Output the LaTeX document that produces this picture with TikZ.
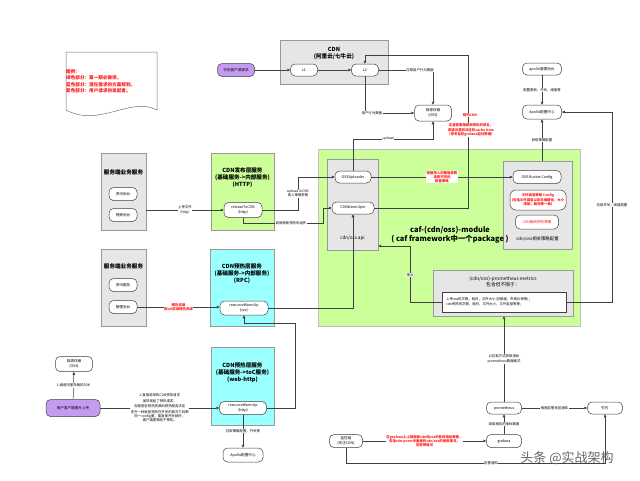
\documentclass[tikz,border=0pt]{standalone}
\usepackage{fontspec}
\setmainfont{Noto Sans CJK SC}
\usetikzlibrary{arrows.meta}

\definecolor{grpgray}{HTML}{E6E6E6}
\definecolor{lime}{HTML}{CCFF99}
\definecolor{aqua}{HTML}{99FFFF}
\definecolor{lilac}{HTML}{C39BF0}
\definecolor{warnred}{HTML}{FF1A1A}

\tikzset{
    grp/.style={draw=black!40, fill=grpgray, line width=0.4pt},
    pill/.style={draw=black!75, fill=white, rounded corners=4.5pt, line width=0.5pt,
        align=center, inner sep=0.5pt, minimum height=12pt,
        font=\fontsize{3.6}{4.4}\selectfont},
    lnk/.style={draw=black!75, line width=0.5pt, -{Triangle[length=3pt,width=2.6pt]}},
    lbl/.style={fill=white, inner sep=0.6pt, align=center, font=\fontsize{3.4}{4.2}\selectfont},
    redlbl/.style={lbl, text=warnred, font=\fontsize{3.4}{4.2}\selectfont\bfseries},
    ttl/.style={align=center, font=\fontsize{5.6}{7}\selectfont\bfseries}
}

\begin{document}
\begin{tikzpicture}[x=1pt, y=-1pt]
    \useasboundingbox[fill=white] (0,0) rectangle (640,480);

    % legend
    \draw[black!55, fill=white, line width=0.5pt] (66,52) -- (157,52) -- (157,110)
        .. controls (130,96) and (100,128) .. (66,110) -- cycle;
    \node[anchor=north west, align=left, text=warnred, inner sep=0pt,
        font=\fontsize{4.6}{6.5}\selectfont\bfseries] (legend) at (66,69)
        {图例：\\绿色部分：第一期必做项。\\蓝色部分：潜在需求的方案规划。\\紫色部分：用户请求的发起者。};

    % groups
    \node[grp, minimum width=108pt, minimum height=44pt] (cdnGrp) at (334,62) {};
    \node[grp, minimum width=45pt, minimum height=77pt] (svcA) at (123.5,191.5) {};
    \node[grp, fill=lime, minimum width=63pt, minimum height=77pt] (pubGrp) at (242.5,191.5) {};
    \node[grp, fill=lime, draw=black!25, minimum width=262pt, minimum height=177pt] (modGrp) at (449,237.5) {};
    \node[grp, minimum width=51pt, minimum height=91pt] (apiGrp) at (352.5,204.5) {};
    \node[grp, minimum width=69pt, minimum height=88pt] (cfgGrp) at (537.5,205) {};
    \node[grp, minimum width=140pt, minimum height=46pt] (metGrp) at (503,293) {};
    \node[draw=black!75, fill=white, line width=0.5pt, minimum width=124pt, minimum height=20pt] (metBox) at (504,302) {};
    \node[grp, minimum width=45pt, minimum height=77pt] (svcB) at (123.5,287.5) {};
    \node[grp, fill=aqua, minimum width=64pt, minimum height=77pt] (rpcGrp) at (242,287.5) {};
    \node[grp, fill=aqua, minimum width=63pt, minimum height=78pt] (webGrp) at (242.5,386) {};

    % group titles
    \node[ttl] at (334,53) {CDN\\(阿里云/七牛云)};
    \node[ttl] at (123.5,172) {服务端业务服务};
    \node[ttl] at (242.5,178) {CDN发布层服务\\(基础服务->内部服务)\\(HTTP)};
    \node[ttl, font=\fontsize{7.4}{9}\selectfont\bfseries] at (450,235) {caf-(cdn/oss)-module\\( caf framework中一个package )};
    \node[ttl, font=\fontsize{4.6}{6}\selectfont] at (352.5,238) {cdn/oss api};
    \node[ttl, font=\fontsize{4.4}{6}\selectfont] at (537.5,239) {cdn/oss相关策略配置};
    \node[ttl, font=\fontsize{4.8}{6}\selectfont] at (503,282) {(cdn/oss)-prometheus metrics\\包含但不限于：};
    \node[anchor=west, align=left, inner sep=0pt, font=\fontsize{3.4}{5.6}\selectfont] at (446,302)
        {上传oss的次数，耗时，文件大小(总额度，失败比率等)；\\cdn预热的次数，耗时，文件大小，文件类型等等；};
    \node[ttl] at (123.5,266) {服务端业务服务};
    \node[ttl] at (242,274) {CDN预热层服务\\(基础服务->内部服务)\\(RPC)};
    \node[ttl] at (242.5,373) {CDN预热层服务\\(基础服务->toC服务)\\(web-http)};

    % nodes
    \node[pill, fill=lilac, minimum width=37pt, minimum height=13pt] (phone) at (236,70) {手机客户端请求};
    \node[pill, minimum width=27pt] (L1) at (304,70) {L1};
    \node[pill, minimum width=27pt] (L2) at (365,70) {L2};
    \node[pill, minimum width=37pt, minimum height=16pt] (ossA) at (433,113) {回源存储\\(OSS)};
    \node[pill, minimum width=39pt] (aadmin) at (542,69) {apollo管理后台};
    \node[pill, minimum width=39pt, minimum height=14pt] (acfg) at (542,112) {Apollo配置中心};
    \node[pill, minimum width=28pt, minimum height=13pt] (news) at (123,194) {资讯后台};
    \node[pill, minimum width=28pt, minimum height=13pt] (video) at (123,215) {视频后台};
    \node[pill, minimum width=38pt, minimum height=15pt] (rel) at (243,210) {releaseToCDN\\(http)};
    \node[pill, minimum width=36pt] (up) at (353,177) {OSSUploader};
    \node[pill, minimum width=42pt] (warm) at (353,208) {CDNWarmUper};
    \node[pill, minimum width=48pt, minimum height=13pt] (bucket) at (537,177) {OSS Bucket Config};
    \node[pill, text=warnred, font=\fontsize{3.4}{4.2}\selectfont\bfseries, rounded corners=6pt,
        minimum width=56pt, minimum height=20pt] (ftype) at (538,200)
        {文件类型策略 Config\\(包括文件类型以及存储路径，大小\\限制，路径等一致)};
    \node[pill, text=warnred, minimum width=43pt, minimum height=14pt] (cdnpol) at (537,222) {CDN刷新预热策略};
    \node[pill, minimum width=28pt, minimum height=13pt] (rent) at (123,285) {资讯服务};
    \node[pill, minimum width=28pt, minimum height=13pt] (mgr) at (123,307) {管理后台};
    \node[pill, minimum width=48pt, minimum height=14pt] (rpc) at (244,308) {resourceWarmUp\\(rpc)};
    \node[pill, minimum width=47pt, minimum height=13pt] (http) at (243,408) {resourceWarmUp\\(http)};
    \node[pill, minimum width=40pt, minimum height=14pt] (apolloB) at (243,455) {Apollo配置中心};
    \node[pill, minimum width=37pt, minimum height=15pt] (ossB) at (74,364) {回源存储\\(OSS)};
    \node[pill, fill=lilac, minimum width=54pt, minimum height=17pt] (client) at (73,408) {用户客户端图片上传};
    \node[pill, minimum width=33pt, minimum height=13pt] (mon) at (346,441) {监控组\\(关注CDN)};
    \node[pill, minimum width=35pt, minimum height=13pt] (graf) at (504,441) {grafana};
    \node[pill, minimum width=35pt] (prom) at (504,408) {prometheus};
    \node[pill, minimum width=35pt] (ding) at (605,408) {钉钉};

    % bends
    \coordinate (ubend) at (433,139);
    \coordinate (wbend) at (468,55);
    \coordinate (rbend) at (298,177);
    \coordinate (wbend2) at (323,223);
    \coordinate (mbend) at (612,112);
    \coordinate (mbend2) at (410,246);
    \coordinate (hbend) at (295,323);
    \coordinate (abend) at (605,463);

    % connectors
    \draw[lnk] (phone) -- (L1);
    \draw[lnk] (L1) -- (L2);
    \draw[lnk] (L2.east) -| node[lbl, pos=0.38] {拉取用户行为数据} (ossA.north);
    \draw[lnk] (L2.south) |- node[lbl, pos=0.57] {用户行为数据} (ossA.west);
    \draw[lnk] (up.north) |- node[lbl, pos=0.72] {upload} (ubend) -- (ossA.south);
    \draw[lnk] (warm.east) -| (wbend) -| (L2.north);
    \node[redlbl] at (470,115) {预热CDN};
    \node[redlbl] at (471,130) {这里需要是刷新预热的域名，\\希望设置到对应的cache time\\（参考监控grafana监控数据）};
    \draw[lnk] (aadmin) -- node[lbl] {配置更新，开关，阈值等} (acfg);
    \draw[lnk] (acfg |- cfgGrp.north) -- node[lbl] {获取策略配置} (acfg);
    \draw[lnk] (metBox.east) -| node[lbl, pos=0.755] {拉取开关，阈值配置} (mbend) -- (acfg.east);
    \draw[lnk] (svcA.east |- rel.west) -- node[lbl] {上传文件\\(http)} (rel.west);
    \draw[lnk] (rel.east) -| node[lbl, pos=0.75] {uploadToOSS\\收入策略参数} (rbend) -- (up.west);
    \draw[lnk] (rel.south) |- node[lbl, pos=0.8] {调用刷新预热的组件} (wbend2) |- (warm.west);
    \draw[lnk] (up.east) -- node[redlbl] {根据传入的策略参数\\选择不同的\\配置策略} (bucket.west);
    \draw[lnk] (metBox.west) -| node[lbl, pos=0.74] {埋点} (mbend2) -- (mbend2 -| apiGrp.east);
    \draw[lnk] (prom.north) -- node[lbl] {以拉取方式获取指标\\prometheus数据格式} (prom.north |- metGrp.south);
    \draw[lnk] (mgr.east) -- node[redlbl] {预热资源\\按uri前缀预热资源} (mgr.east -| rpc.west);
    \draw[lnk] (rpc.east) -| (warm.south);
    \draw[lnk] (http.east) -| (hbend) -| (rpc.south);
    \draw[lnk] (http) -- node[lbl] {拉取策略配置，开关等} (apolloB);
    \draw[lnk] (client) -- node[lbl] {1.通用阿里存储的SDK} (ossB);
    \draw[lnk] (client) -- node[lbl] {2.直接调用的CDN预热请求\\[2pt]虽然发起了预热请求，\\但是是否预热资源由预热服务决定\\[2pt]还外一种就是预热在开关的情况下判断\\同一config里，能直接开关就好，\\客户端逻辑处于预热。} (http);
    \draw[lnk] (mon) -- node[redlbl] {在grafana上上报面板cdn和oss的各种指标数据，\\包括cdn-prom中面板的cdn/oss的使用情况，\\告警等情况} (graf);
    \draw[lnk] (graf) -- node[lbl] {调取相应的指标数据} (prom);
    \draw[lnk] (prom) -- node[lbl] {根据告警发送通知} (ding);
    \draw[lnk] (mon.south) |- node[lbl, pos=0.78] {告警通知} (abend) -- (ding.south);

    % watermark
    \node[text=black!60, font=\fontsize{13}{14}\selectfont] (mark) at (567,458) {头条 @实战架构};
\end{tikzpicture}
\end{document}
